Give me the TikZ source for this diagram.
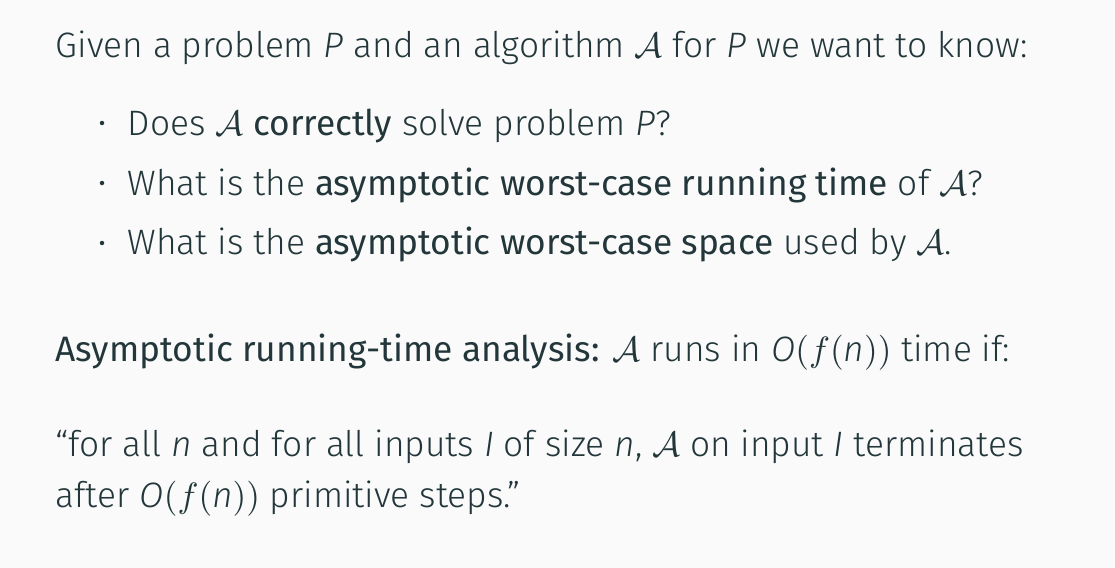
\documentclass[tikz,border=0pt]{standalone}
\usepackage{fontspec}
\setmainfont{Fira Sans}[UprightFont={* Light},ItalicFont={* Light Italic},BoldFont={*},BoldItalicFont={* Italic}]
\usetikzlibrary{positioning}

\definecolor{mDark}{HTML}{23373B}
\definecolor{mBack}{HTML}{FAFAFA}
\newcommand{\algA}{$\mathcal{A}$}
\newcommand{\bigOf}{\textit{O}$(f(\mbox{\textit{n}}))$}

\begin{document}
\begin{tikzpicture}[x=0.1mm,y=-0.1mm,
  txt/.style={anchor=base west,inner sep=0pt,text=mDark,font=\fontsize{10.05}{12}\selectfont},
  itemdot/.style={circle,fill=mDark,inner sep=0pt,minimum size=0.45mm}]

  \fill[mBack] (0,0) rectangle (1115,568);

  \node[txt] (intro) at (55,57) {Given a problem \textit{P} and an algorithm \algA{} for \textit{P} we want to know:};

  \node[itemdot] (dot1) at (102,123) {};
  \node[txt] (item1) at (127,135) {Does \algA{} \textbf{correctly} solve problem \textit{P}?};
  \node[itemdot] (dot2) at (102,183) {};
  \node[txt] (item2) at (127,195) {What is the \textbf{asymptotic worst-case running time} of \algA?};
  \node[itemdot] (dot3) at (102,243) {};
  \node[txt] (item3) at (127,255) {What is the \textbf{asymptotic worst-case space} used by \algA.};

  \node[txt] (defn) at (55,361) {\textbf{Asymptotic running-time analysis:} \algA{} runs in \bigOf{} time if:};

  % the quoted definition, two lines
  \node[txt] (quote1) at (55,456) {``for all \textit{n} and for all inputs \textit{I} of size \textit{n}, \algA{} on input \textit{I} terminates};
  \node[txt] (quote2) at (55,507) {after \bigOf{} primitive steps.''};

\end{tikzpicture}
\end{document}
